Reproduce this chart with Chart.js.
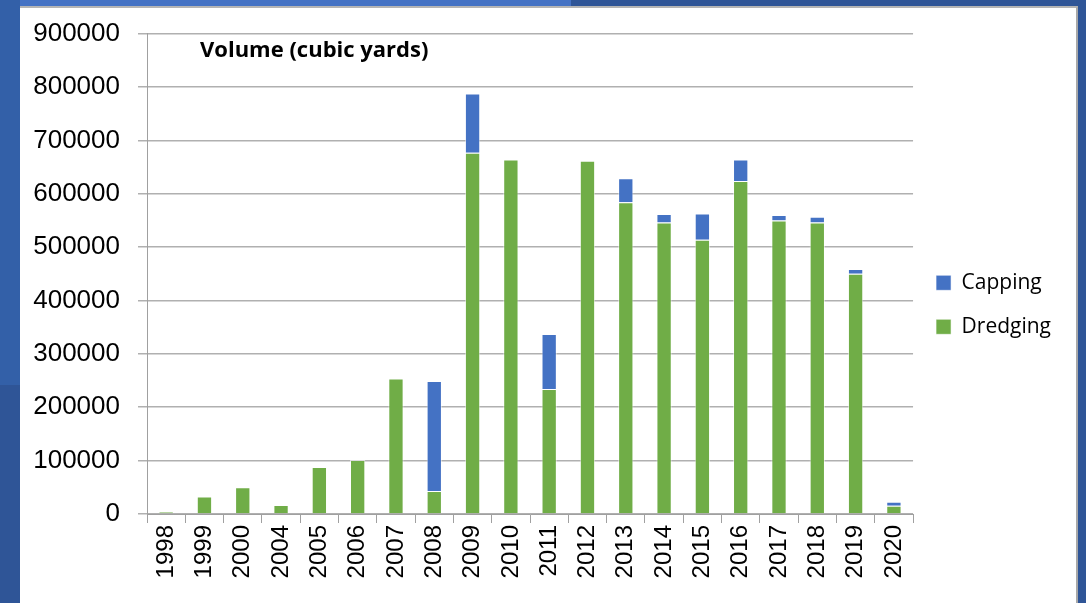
<!DOCTYPE html>
<html>
<head>
<meta charset="utf-8">
<script src="https://cdn.jsdelivr.net/npm/chart.js@4/dist/chart.umd.min.js"></script>
<style>
  html, body { margin: 0; padding: 0; }
  body { width: 1086px; height: 603px; background: #2f5597; position: relative; overflow: hidden; }
  #strip { position: absolute; left: 0; top: 0; width: 571px; height: 7px; background: #4472c4; }
  #side { position: absolute; left: 0; top: 0; width: 20px; height: 385px; background: #3360a8; }
  #panel { position: absolute; left: 20px; top: 6px; width: 1056px; height: 597px;
           background: #fff; border-top: 2px solid #b4b4b4; border-right: 2px solid #a8a8a8; }
  #chart { position: absolute; left: 20px; top: 0; }
</style>
</head>
<body>
<div id="strip"></div>
<div id="side"></div>
<div id="panel"></div>
<canvas id="chart" width="1056" height="603"></canvas>
<script>
const years = ['1998', '1999', '2000', '2004', '2005', '2006', '2007', '2008', '2009', '2010',
  '2011', '2012', '2013', '2014', '2015', '2016', '2017', '2018', '2019', '2020'];
const dredging = [4300, 33000, 50000, 17000, 88000, 101000, 254000, 43000, 677000, 664000,
  234000, 662000, 584000, 546000, 514000, 624000, 550000, 546000, 450000, 15500];
const capping = [0, 0, 0, 0, 0, 0, 0, 206000, 111000, 0,
  103000, 0, 45000, 16000, 49000, 40000, 10000, 11000, 9000, 7500];
const yMax = 900000;
const yStep = 100000;
const chartTitle = 'Volume (cubic yards)';

const BLUE = '#4472c4';
const GREEN = '#70ad47';
const GRID = '#b0b0b0';
const AXIS = '#a0a0a0';

// title sits inside the plot area, top left
const innerTitle = {
  id: 'innerTitle',
  afterDraw(chart) {
    const { ctx, chartArea } = chart;
    ctx.save();
    ctx.font = 'bold 22px "Open Sans", Lato, sans-serif';
    ctx.fillStyle = '#000';
    ctx.textBaseline = 'middle';
    ctx.fillText(chartTitle, chartArea.left + 53, chartArea.top + 17);
    ctx.restore();
  }
};

new Chart(document.getElementById('chart'), {
  type: 'bar',
  data: {
    labels: years,
    datasets: [
      { label: 'Dredging', data: dredging, backgroundColor: GREEN,
        borderColor: 'rgba(255,255,255,0.55)', borderWidth: 1 },
      { label: 'Capping', data: capping, backgroundColor: BLUE,
        borderColor: 'rgba(255,255,255,0.55)', borderWidth: 1 }
    ]
  },
  options: {
    responsive: false,
    animation: false,
    layout: { padding: { top: 0, left: 0, right: 15, bottom: 0 } },
    datasets: { bar: { categoryPercentage: 1, barPercentage: 0.4 } },
    scales: {
      x: {
        stacked: true,
        afterFit(scale) { scale.height = 89; },
        grid: { drawOnChartArea: false, drawTicks: true, tickLength: 9, color: AXIS, offset: true },
        border: { color: AXIS, width: 1 },
        ticks: {
          minRotation: 90, maxRotation: 90, padding: 2, color: '#000',
          font: { family: '"Liberation Sans", Arial, sans-serif', size: 24 }
        }
      },
      y: {
        stacked: true,
        min: 0,
        max: yMax,
        afterFit(scale) { scale.width = 127; },
        grid: { color: GRID, lineWidth: 1.5, tickLength: 9 },
        border: { color: AXIS, width: 1 },
        ticks: {
          stepSize: yStep, padding: 18, color: '#000',
          font: { family: '"Liberation Sans", Arial, sans-serif', size: 26 },
          callback: (v) => String(v)
        }
      }
    },
    plugins: {
      tooltip: { enabled: false },
      legend: {
        position: 'right',
        fullSize: false,
        maxWidth: 150,
        reverse: true,
        title: { display: true, text: '', font: { size: 20, lineHeight: 1.2 }, padding: 19 },
        labels: {
          boxWidth: 15, boxHeight: 15, padding: 23, color: '#000',
          font: { family: '"Open Sans", Lato, sans-serif', size: 21 }
        }
      }
    }
  },
  plugins: [innerTitle]
});
</script>
</body>
</html>
